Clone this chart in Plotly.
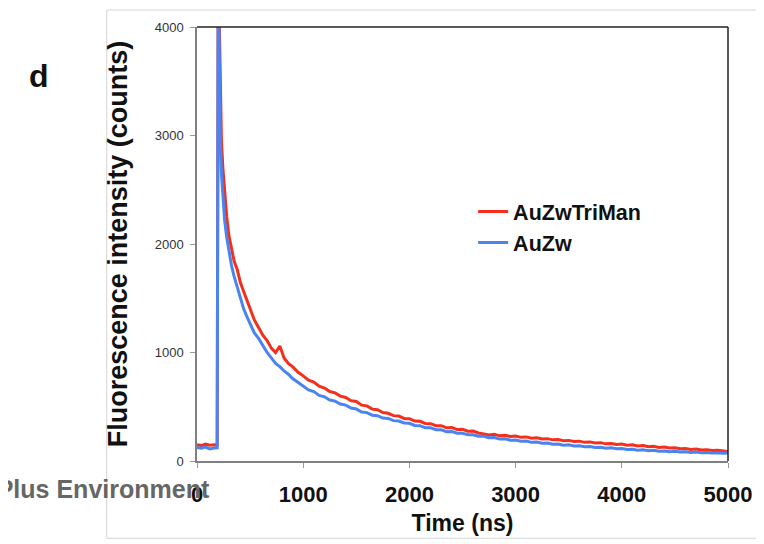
import plotly.graph_objects as go

# Time axis (ns)
time_ns = [0, 40, 80, 120, 160, 190, 200, 210, 220, 230, 245, 260, 280, 300, 325, 350, 380, 410, 440, 470,
           500, 540, 580, 620, 660, 700, 740, 780, 820, 860, 900, 950, 1000,
           1050, 1100, 1150, 1200, 1250, 1300, 1350, 1400, 1450, 1500, 1550, 1600, 1650, 1700, 1750, 1800,
           1850, 1900, 1950, 2000, 2050, 2100, 2150, 2200, 2250, 2300, 2350, 2400, 2450, 2500, 2550, 2600,
           2650, 2700, 2750, 2800, 2850, 2900, 2950, 3000, 3050, 3100, 3150, 3200, 3250, 3300, 3350, 3400,
           3450, 3500, 3550, 3600, 3650, 3700, 3750, 3800, 3850, 3900, 3950, 4000, 4050, 4100, 4150, 4200,
           4250, 4300, 4350, 4400, 4450, 4500, 4550, 4600, 4650, 4700, 4750, 4800, 4850, 4900, 4950, 5000]

# Fluorescence intensity (counts)
auzw_triman = [150, 142, 155, 146, 150, 148, 4600, 3900, 3300, 2950, 2680, 2450, 2250, 2080, 1950, 1840,
               1760, 1640, 1560, 1480, 1390, 1300, 1230, 1160, 1110, 1040, 1000, 1060, 950, 900, 870, 820, 785,
               745, 728, 690, 672, 640, 628, 598, 586, 556, 548, 515, 508, 478, 472, 446, 440, 418, 414, 392,
               390, 368, 366, 346, 344, 326, 326, 306, 308, 290, 292, 274, 276, 258,
               250, 240, 246, 232, 238, 226, 230, 218, 222, 210, 214, 202, 206, 195, 198, 186, 190, 180, 183,
               172, 176, 166, 169, 158, 162, 152, 156, 146, 149, 138, 142, 131, 135, 125, 128, 119, 122, 113,
               116, 107, 110, 101, 104, 96, 98, 90, 88]

auzw = [125, 118, 128, 112, 120, 122, 4600, 3500, 2950, 2650, 2400, 2220, 2060, 1930, 1800, 1700, 1600,
        1480, 1400, 1330, 1260, 1180, 1130, 1060, 1000, 950, 900, 870, 830, 800, 760, 725, 690,
        655, 640, 605, 592, 562, 552, 525, 515, 488, 480, 452, 446, 422, 418, 396, 392, 372, 368, 350, 348,
        328, 326, 306, 306, 288, 288, 270, 272, 256, 256, 242, 242, 228, 228, 214, 216, 202, 204, 192, 194,
        182, 184, 172, 174, 163, 165, 155, 157, 146, 149, 139, 141, 131, 134, 124, 127, 118, 121, 112, 115,
        106, 109, 100, 103, 95, 98, 90, 93, 86, 89, 82, 85, 79, 82, 76, 79, 73, 76, 71, 73]

x_ticks = [0, 1000, 2000, 3000, 4000, 5000]
y_ticks = [0, 1000, 2000, 3000, 4000]

FONT = "Liberation Sans, Arial, Helvetica, sans-serif"

fig = go.Figure()
fig.add_trace(go.Scatter(x=time_ns, y=auzw_triman, mode="lines", name="AuZwTriMan",
                         line=dict(color="#f4301c", width=3), legendgroup="a"))
fig.add_trace(go.Scatter(x=time_ns, y=auzw, mode="lines", name="AuZw",
                         line=dict(color="#4a84f2", width=3), legendgroup="b"))

# The page body adds an 8px margin, so the figure is 8px smaller than the window.
fig.update_layout(
    width=756, height=536,
    margin=dict(l=189, r=32, t=17, b=81),
    paper_bgcolor="white", plot_bgcolor="white",
    font=dict(family=FONT, color="#000"),
    showlegend=True,
    legend=dict(x=0.52, y=0.622, xanchor="left", yanchor="top", bgcolor="rgba(0,0,0,0)",
                font=dict(size=21.5, weight="bold", color="#111"), tracegroupgap=0, itemwidth=30),
    xaxis=dict(range=[0, 5000], tickvals=x_ticks, ticks="outside", ticklen=5, tickcolor="#999",
               showline=True, linecolor="#808080", linewidth=1.5, showgrid=False, zeroline=False,
               tickfont=dict(size=22, weight="bold", color="#111"), ticklabelstandoff=8,
               title=dict(text="Time (ns)", font=dict(size=23, weight="bold", color="#111"), standoff=9)),
    yaxis=dict(range=[0, 4000], tickvals=y_ticks, ticks="outside", ticklen=5, tickcolor="#999",
               showline=True, linecolor="#808080", linewidth=1.5, showgrid=False, zeroline=False,
               tickfont=dict(size=13, color="#333"), ticklabelstandoff=4,
               title=dict(text="Fluorescence intensity (counts)",
                          font=dict(size=27, weight="bold", color="#111"), standoff=19)),
    shapes=[
        dict(type="line", xref="paper", yref="paper", x0=0, x1=1, y0=1, y1=1,
             line=dict(color="#222", width=1.5)),
        dict(type="line", xref="paper", yref="paper", x0=1, x1=1, y0=0, y1=1,
             line=dict(color="#222", width=1.5)),
        dict(type="rect", xref="paper", yref="paper", x0=-0.170, x1=1.07, y0=-0.178, y1=1.039,
             line=dict(color="#d4d4d4", width=1), layer="below"),
    ],
    annotations=[
        dict(text="d", xref="paper", yref="paper", x=-0.32, y=0.934, showarrow=False,
             font=dict(size=32, weight="bold", color="#111")),
        dict(text="ACS Paragon Plus Environment", xref="paper", yref="paper", x=0.028, y=-0.065,
             xanchor="right", yanchor="middle", showarrow=False,
             font=dict(size=25, weight="bold", color="#666")),
    ],
)

fig.write_html("out.html")
